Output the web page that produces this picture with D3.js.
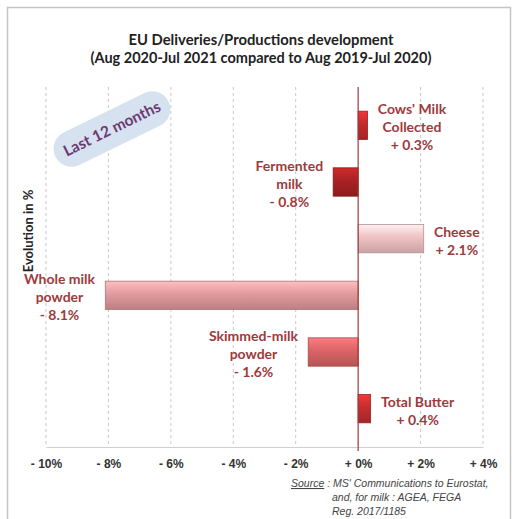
<!DOCTYPE html>
<html>
<head>
<meta charset="utf-8">
<script src="https://cdn.jsdelivr.net/npm/d3@7"></script>
<style>
  body { margin: 0; background: #fff; }
  svg { display: block; }
</style>
</head>
<body>
<div id="chart"></div>
<script>
// data
var categories = ["cows", "fermented", "cheese", "wmp", "smp", "butter"];
var labelLines = [
  ["Cows' Milk", "Collected", "+ 0.3%"],
  ["Fermented", "milk", "- 0.8%"],
  ["Cheese", "+ 2.1%"],
  ["Whole milk", "powder", "- 8.1%"],
  ["Skimmed-milk", "powder", "- 1.6%"],
  ["Total Butter", "+ 0.4%"]
];
var values = [0.3, -0.8, 2.1, -8.1, -1.6, 0.4];
var barColors = ["#c42a2c", "#a82224", "#efc2c3", "#e19a9d", "#da6466", "#c42e30"];
var xTicks = [-10, -8, -6, -4, -2, 0, 2, 4];

var svgWidth = 513, svgHeight = 519;
var labelColor = "#9e3a3c";

var svg = d3.select("#chart").append("svg")
  .attr("width", svgWidth)
  .attr("height", svgHeight);

// outer frame
svg.append("rect")
  .attr("x", 7.5).attr("y", 7.5)
  .attr("width", 503).attr("height", 530)
  .attr("fill", "#fff")
  .attr("stroke", "#c4c4c4")
  .attr("stroke-width", 1.5);

// title
svg.append("text")
  .attr("x", 261).attr("y", 45)
  .attr("text-anchor", "middle")
  .attr("font-family", "Lato, sans-serif")
  .attr("font-weight", "bold")
  .attr("font-size", "14.8px")
  .attr("fill", "#222")
  .text("EU Deliveries/Productions development");
svg.append("text")
  .attr("x", 261).attr("y", 63)
  .attr("text-anchor", "middle")
  .attr("font-family", "Lato, sans-serif")
  .attr("font-weight", "bold")
  .attr("font-size", "14.5px")
  .attr("fill", "#222")
  .text("(Aug 2020-Jul 2021 compared to Aug 2019-Jul 2020)");

// scales
var x = d3.scaleLinear().domain([-10, 4]).range([46, 483]);
var y = d3.scaleBand().domain(categories).range([97, 437]).paddingInner(0.5).paddingOuter(0.25);

var gridTop = 87, axisY = 447;

// dashed grid lines
svg.append("g").selectAll("line")
  .data(xTicks.filter(d => d !== 0))
  .enter().append("line")
  .attr("x1", d => x(d)).attr("x2", d => x(d))
  .attr("y1", gridTop).attr("y2", axisY)
  .attr("stroke", "#c8c8c8")
  .attr("stroke-dasharray", "3,3");

// bottom axis
var xAxis = svg.append("g")
  .attr("transform", `translate(0, ${axisY})`)
  .call(d3.axisBottom(x).tickValues(xTicks).tickSize(0).tickPadding(12)
    .tickFormat(d => (d < 0 ? "- " : "+ ") + Math.abs(d) + "%"));
xAxis.select(".domain").attr("stroke", "#cfcfcf");
xAxis.selectAll("text")
  .attr("font-family", "'Liberation Sans', Arial, sans-serif")
  .attr("font-weight", "bold")
  .attr("font-size", "12px")
  .attr("fill", "#333");

// gradients for bars
var defs = svg.append("defs");
barColors.forEach(function(c, i) {
  var g = defs.append("linearGradient")
    .attr("id", "grad" + i)
    .attr("x1", 0).attr("y1", 0).attr("x2", 0).attr("y2", 1);
  g.append("stop").attr("offset", "0%").attr("stop-color", d3.color(c).brighter(0.6));
  g.append("stop").attr("offset", "45%").attr("stop-color", c);
  g.append("stop").attr("offset", "100%").attr("stop-color", d3.color(c).darker(0.5));
});

// bars
svg.append("g").selectAll("rect")
  .data(values)
  .enter().append("rect")
  .attr("x", d => x(Math.min(0, d)))
  .attr("y", (d, i) => y(categories[i]))
  .attr("width", d => Math.abs(x(d) - x(0)))
  .attr("height", y.bandwidth())
  .attr("fill", (d, i) => `url(#grad${i})`)
  .attr("stroke", (d, i) => d3.color(barColors[i]).darker(0.8))
  .attr("stroke-width", 0.8);

// zero line
svg.append("line")
  .attr("x1", x(0)).attr("x2", x(0))
  .attr("y1", gridTop).attr("y2", axisY + 4)
  .attr("stroke", "#9e3a3c")
  .attr("stroke-width", 1.2);

// bar labels
var lineH = 18;
values.forEach(function(v, i) {
  var lines = labelLines[i];
  var g = svg.append("g");
  var t = g.append("text")
    .attr("text-anchor", "middle")
    .attr("font-family", "Lato, sans-serif")
    .attr("font-weight", "bold")
    .attr("font-size", "14px")
    .attr("fill", labelColor);
  lines.forEach(function(l, j) {
    t.append("tspan")
      .attr("x", 0)
      .attr("y", (j - (lines.length - 1) / 2) * lineH + 5)
      .text(l);
  });
  var w = t.node().getBBox().width;
  var gap = 10;
  var cx = v >= 0 ? x(v) + gap + w / 2 : x(v) - gap - w / 2;
  var cy = y(categories[i]) + y.bandwidth() / 2 + 2;
  g.attr("transform", `translate(${cx}, ${cy})`);
});

// y axis title
svg.append("text")
  .attr("transform", "translate(33, 231) rotate(-90)")
  .attr("text-anchor", "middle")
  .attr("font-family", "Lato, sans-serif")
  .attr("font-weight", "bold")
  .attr("font-size", "13px")
  .attr("fill", "#222")
  .text("Evolution in %");

// "Last 12 months" badge
var badge = svg.append("g")
  .attr("transform", "translate(112, 129) rotate(-26)");
badge.append("rect")
  .attr("x", -63).attr("y", -18)
  .attr("width", 126).attr("height", 36)
  .attr("rx", 18)
  .attr("fill", "#d7e2f1");
badge.append("text")
  .attr("text-anchor", "middle")
  .attr("y", 5)
  .attr("font-family", "Lato, sans-serif")
  .attr("font-weight", "bold")
  .attr("font-size", "15.5px")
  .attr("fill", "#6c3a73")
  .text("Last 12 months");

// source note
var src = svg.append("g")
  .attr("font-family", "'Liberation Sans', Arial, sans-serif")
  .attr("font-style", "italic")
  .attr("font-size", "10.5px")
  .attr("fill", "#444");
var s1 = src.append("text").attr("x", 291).attr("y", 487);
s1.append("tspan").attr("text-decoration", "underline").text("Source");
s1.append("tspan").text(" : MS' Communications to Eurostat,");
src.append("text").attr("x", 332).attr("y", 501).text("and, for milk : AGEA, FEGA");
src.append("text").attr("x", 332).attr("y", 515).text("Reg. 2017/1185");
</script>
</body>
</html>
